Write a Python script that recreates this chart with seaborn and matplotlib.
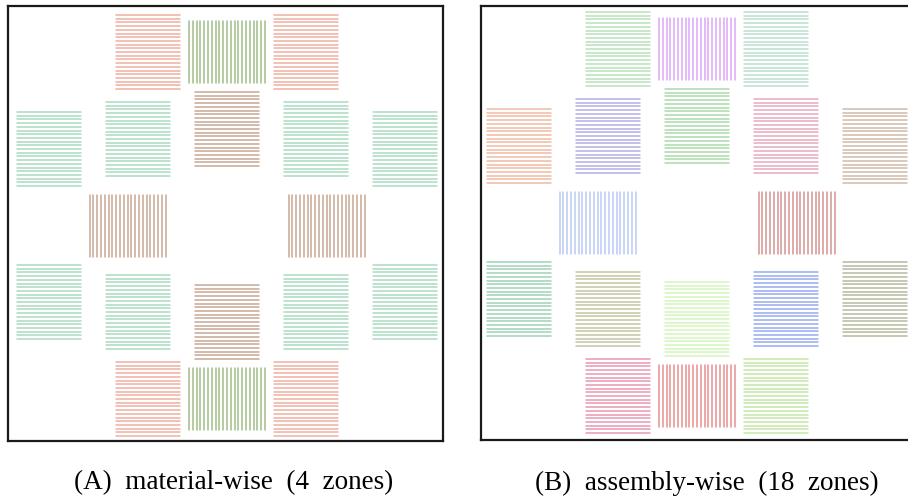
import numpy as np
import pandas as pd
import matplotlib
matplotlib.use("Agg")
import matplotlib.pyplot as plt
import seaborn as sns

# ---- data -------------------------------------------------------------
# assembly centre positions (core-relative units, y up)
asm_x = [-79, 0, 79,
         -178, -89, 0, 89, 178,
         -99.5, 99.5,
         -178, -89, 0, 89, 178,
         -79, 0, 79]
asm_y = [173.5, 173.5, 173.5,
         76.5, 86.5, 96.5, 86.5, 76.5,
         0, 0,
         -76.5, -86.5, -96.5, -86.5, -76.5,
         -173.5, -173.5, -173.5]
# stripe orientation of each assembly
asm_orient = ["h", "v", "h",
              "h", "h", "h", "h", "h",
              "v", "v",
              "h", "h", "h", "h", "h",
              "h", "v", "h"]
# material zone of each assembly (panel A)
material_zone = ["M1", "M2", "M1",
                 "M3", "M3", "M4", "M3", "M3",
                 "M4", "M4",
                 "M3", "M3", "M4", "M3", "M3",
                 "M1", "M2", "M1"]
material_colors = {"M1": "#EA9A86", "M2": "#86AA66", "M3": "#92D0AE", "M4": "#B88E74"}
# assembly zones (panel B)
assembly_zone = [f"A{i+1}" for i in range(18)]
assembly_colors = ["#A6DAA6", "#D28EF4", "#A6D6C0",
                   "#EBA88A", "#9C98E0", "#92D092", "#E094AA", "#C2A892",
                   "#A8BCF4", "#C87672",
                   "#82C6A0", "#B4B48A", "#C6F2A8", "#7894EA", "#A0A684",
                   "#E17A98", "#E07070", "#B2E08C"]
titles = ["(A)  material-wise  (4  zones)", "(B)  assembly-wise  (18  zones)"]

N_LINES = 21
SIZE = {"h": (64, 74), "v": (76, 62)}


def stripes(zones):
    rows = []
    seg = 0
    for cx, cy, o, z in zip(asm_x, asm_y, asm_orient, zones):
        w, h = SIZE[o]
        for i in range(N_LINES):
            if o == "h":
                yy = cy - h / 2 + i * h / (N_LINES - 1)
                rows.append((cx - w / 2, yy, seg, z))
                rows.append((cx + w / 2, yy, seg, z))
            else:
                xx = cx - w / 2 + i * w / (N_LINES - 1)
                rows.append((xx, cy - h / 2, seg, z))
                rows.append((xx, cy + h / 2, seg, z))
            seg += 1
    return pd.DataFrame(rows, columns=["x", "y", "seg", "zone"])


sns.set_theme(style="white")
plt.rcParams["font.family"] = ["Liberation Serif", "DejaVu Serif"]

W, H = 908, 499
fig = plt.figure(figsize=(W / 100, H / 100), dpi=100)

# axes frames in pixels: left, top, right, bottom
frames = [(8, 6, 443, 441), (481, 6, 916, 440)]
xlims = [(-219, 216), (-216, 219)]
ylims = [(-215.5, 219.5), (-217.5, 216.5)]
panels = [(material_zone, material_colors),
          (assembly_zone, dict(zip(assembly_zone, assembly_colors)))]
title_x = [234, 707]

for k in range(2):
    l, t, r, b = frames[k]
    ax = fig.add_axes([l / W, 1 - b / H, (r - l) / W, (b - t) / H])
    zones, pal = panels[k]
    df = stripes(zones)
    sns.lineplot(data=df, x="x", y="y", units="seg", estimator=None,
                 hue="zone", palette=pal, sort=False, legend=False,
                 linewidth=1.1, alpha=0.78, ax=ax)
    ax.set_xlim(*xlims[k])
    ax.set_ylim(*ylims[k])
    ax.set_xticks([])
    ax.set_yticks([])
    ax.set_xlabel("")
    ax.set_ylabel("")
    for s in ax.spines.values():
        s.set_visible(True)
        s.set_color("#1a1a1a")
        s.set_linewidth(1.6)
    fig.text(title_x[k] / W, 1 - 483 / H, titles[k], ha="center", va="center",
             fontsize=19.5, color="black")

fig.savefig("out.png", dpi=100)
